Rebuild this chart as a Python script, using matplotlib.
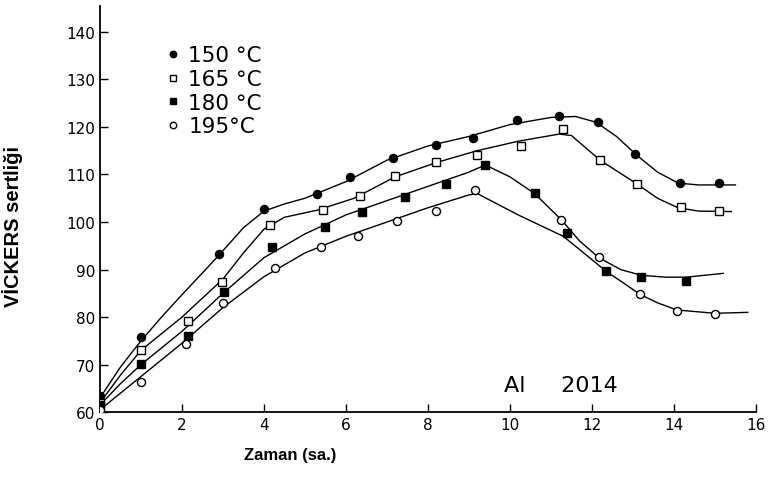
import matplotlib
matplotlib.use("Agg")
import matplotlib.pyplot as plt
import numpy as np

# measured points (time in hours, Vickers hardness)
t150 = [0, 1, 2.9, 4.0, 5.3, 6.1, 7.15, 8.2, 9.1, 10.17, 11.2, 12.15, 13.05, 14.15, 15.1]
h150 = [63.4, 75.8, 93.3, 102.8, 106.0, 109.4, 113.4, 116.2, 117.7, 121.4, 122.3, 121.0, 114.3, 108.2, 108.2]

t165 = [0, 1.0, 2.15, 2.97, 4.15, 5.45, 6.35, 7.2, 8.2, 9.2, 10.27, 11.3, 12.2, 13.1, 14.17, 15.1]
h165 = [62.0, 73.0, 79.1, 87.3, 99.3, 102.6, 105.4, 109.6, 112.7, 114.2, 115.9, 119.5, 113.0, 107.9, 103.1, 102.4]

t180 = [0, 1.0, 2.15, 3.02, 4.2, 5.5, 6.4, 7.45, 8.44, 9.4, 10.6, 11.4, 12.35, 13.2, 14.3]
h180 = [61.5, 70.1, 76.0, 85.2, 94.7, 99.0, 102.2, 105.2, 108.1, 112.1, 106.2, 97.6, 89.6, 88.4, 87.7]

t195 = [0, 1.0, 2.1, 3.0, 4.26, 5.4, 6.3, 7.25, 8.2, 9.15, 11.25, 12.17, 13.17, 14.07, 15.0]
h195 = [60.5, 66.3, 74.3, 82.9, 90.3, 94.7, 97.0, 100.3, 102.4, 106.8, 100.5, 92.6, 84.8, 81.2, 80.6]

# hand drawn trend curves
ct150 = [0, 0.5, 1, 1.5, 2, 2.5, 2.9, 3.5, 4, 4.5, 5, 6, 7, 8, 9, 10, 11, 11.6, 12.1, 12.6, 13.1, 13.6, 14.1, 14.6, 15.5]
ch150 = [63, 69.5, 75, 80, 84.7, 89.3, 93, 98.8, 102.3, 103.8, 105, 108.5, 113, 116, 118, 120.5, 122, 122.2, 121, 118, 114, 110.5, 108.2, 107.8, 107.8]

ct165 = [0, 0.5, 1, 1.5, 2, 2.5, 3, 3.5, 4, 4.5, 5.3, 6.2, 7.2, 8.2, 9.2, 10.2, 11.2, 11.5, 12.2, 13.1, 13.6, 14.1, 14.6, 15.4]
ch165 = [62, 67.8, 73, 76.5, 80, 84, 88, 93.5, 98.5, 101, 102.5, 105, 109.5, 112.5, 115, 117, 118.5, 118.2, 113, 108, 105, 103, 102.3, 102.2]

ct180 = [0, 0.5, 1, 1.5, 2, 3, 4, 5, 6, 7, 8, 9, 9.4, 10.0, 10.6, 11.25, 11.7, 12.17, 12.7, 13.2, 13.8, 14.3, 15.2]
ch180 = [61.5, 66, 70, 73.5, 77, 85, 92.5, 97.5, 101.5, 104.5, 107.5, 110.5, 112, 109.5, 106, 100.5, 96, 92.5, 90, 88.8, 88.4, 88.4, 89.2]

ct195 = [0, 0.5, 1, 1.5, 2, 3, 4, 5, 6, 7, 8, 9, 9.2, 10.2, 11.3, 11.8, 12.35, 12.8, 13.17, 13.6, 14.07, 15.0, 15.8]
ch195 = [60.5, 64, 67.5, 71, 74.5, 82, 88.5, 93.5, 97, 100, 103, 105.7, 106, 101.5, 97, 93.5, 89.6, 87, 84.8, 83, 81.5, 80.8, 81]

labels = ["150 °C", "165 °C", "180 °C", "195°C"]

fig = plt.figure(figsize=(7.69, 4.81), dpi=100)
ax = fig.add_axes([0.130, 0.141, 0.853, 0.845])

for ct, ch in [(ct150, ch150), (ct165, ch165), (ct180, ch180), (ct195, ch195)]:
    ax.plot(ct, ch, color="black", lw=1.0, zorder=2)

ms = 5.8
ax.plot(t150, h150, "o", ms=ms, mfc="black", mec="black", label=labels[0], zorder=3)
ax.plot(t165, h165, "s", ms=ms, mfc="white", mec="black", mew=1.0, label=labels[1], zorder=3)
ax.plot(t180, h180, "s", ms=ms, mfc="black", mec="black", label=labels[2], zorder=3)
ax.plot(t195, h195, "o", ms=ms, mfc="white", mec="black", mew=1.0, label=labels[3], zorder=3)

ax.set_xlim(0, 16)
ax.set_ylim(60, 145.5)
ax.set_xticks(np.arange(0, 17, 2))
ax.set_yticks(np.arange(60, 141, 10))
ax.spines["top"].set_visible(False)
ax.spines["right"].set_visible(False)
ax.spines["left"].set_linewidth(1.3)
ax.spines["bottom"].set_linewidth(1.3)
ax.tick_params(direction="in", length=6, width=1.0, labelsize=11)

ax.set_xlabel("Zaman (sa.)", fontsize=12, fontweight="bold", family="Liberation Sans")
ax.set_ylabel("VİCKERS sertliği", fontsize=14.5, fontweight="bold", family="Liberation Sans")
ax.xaxis.set_label_coords(0.29, -0.085)
ax.yaxis.set_label_coords(-0.118, 0.46)

ax.text(9.85, 64.4, "Al     2014", fontsize=16, va="baseline")

leg = ax.legend(loc="upper left", bbox_to_anchor=(0.069, 0.95), frameon=False,
                fontsize=15.5, handletextpad=0.3, labelspacing=0.17,
                handlelength=0.8, markerscale=0.8)

fig.savefig("out.png", dpi=100)
